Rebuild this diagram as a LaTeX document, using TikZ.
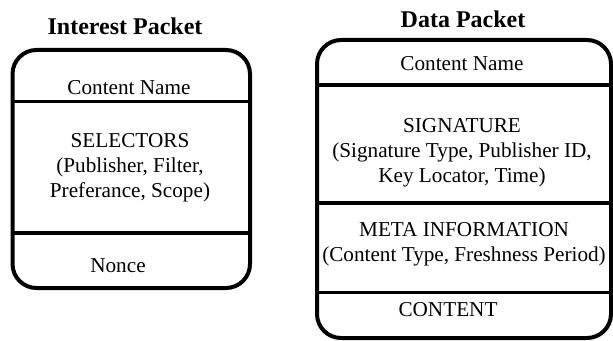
\documentclass[tikz,border=0pt]{standalone}
\usepackage{fontspec}
\setmainfont{Liberation Serif}
\usetikzlibrary{positioning}

\begin{document}
\begin{tikzpicture}[x=0.5pt,y=-0.5pt,
  pkt/.style={draw,line width=2pt,rounded corners=12pt},
  sep/.style={line width=1.6pt},
  ttl/.style={font=\fontsize{12}{14}\selectfont\bfseries,inner sep=0pt},
  fld/.style={font=\fontsize{10.6}{12.6}\selectfont,align=center,inner sep=0pt}
]
\useasboundingbox (0,0) rectangle (613,341);

% interest packet
\node[ttl] (inttitle) at (125,26) {Interest Packet};
\draw[pkt] (12.5,50) rectangle (250,288);
\draw[sep] (12.5,101.5) -- (250,101.5);
\draw[sep] (12.5,233) -- (250,233);
\node[fld] (intname) at (129,88) {Content Name};
\node[fld] (intsel) at (130,168) {SELECTORS\\(Publisher, Filter,\\Preferance, Scope)};
\node[fld] (intnonce) at (118,266) {Nonce};

% data packet
\node[ttl] (datatitle) at (463,19) {Data Packet};
\draw[pkt] (317,40) rectangle (611,338);
\draw[sep] (317,85) -- (611,85);
\draw[sep] (317,203) -- (611,203);
\draw[sep] (317,292.5) -- (611,292.5);
\node[fld] (dataname) at (462,64) {Content Name};
\node[fld] (datasig) at (462,153) {SIGNATURE\\(Signature Type, Publisher ID,\\Key Locator, Time)};
\node[fld] (datameta) at (464,244.5) {META INFORMATION\\(Content Type, Freshness Period)};
\node[fld] (datacont) at (448,310) {CONTENT};
\end{tikzpicture}
\end{document}
